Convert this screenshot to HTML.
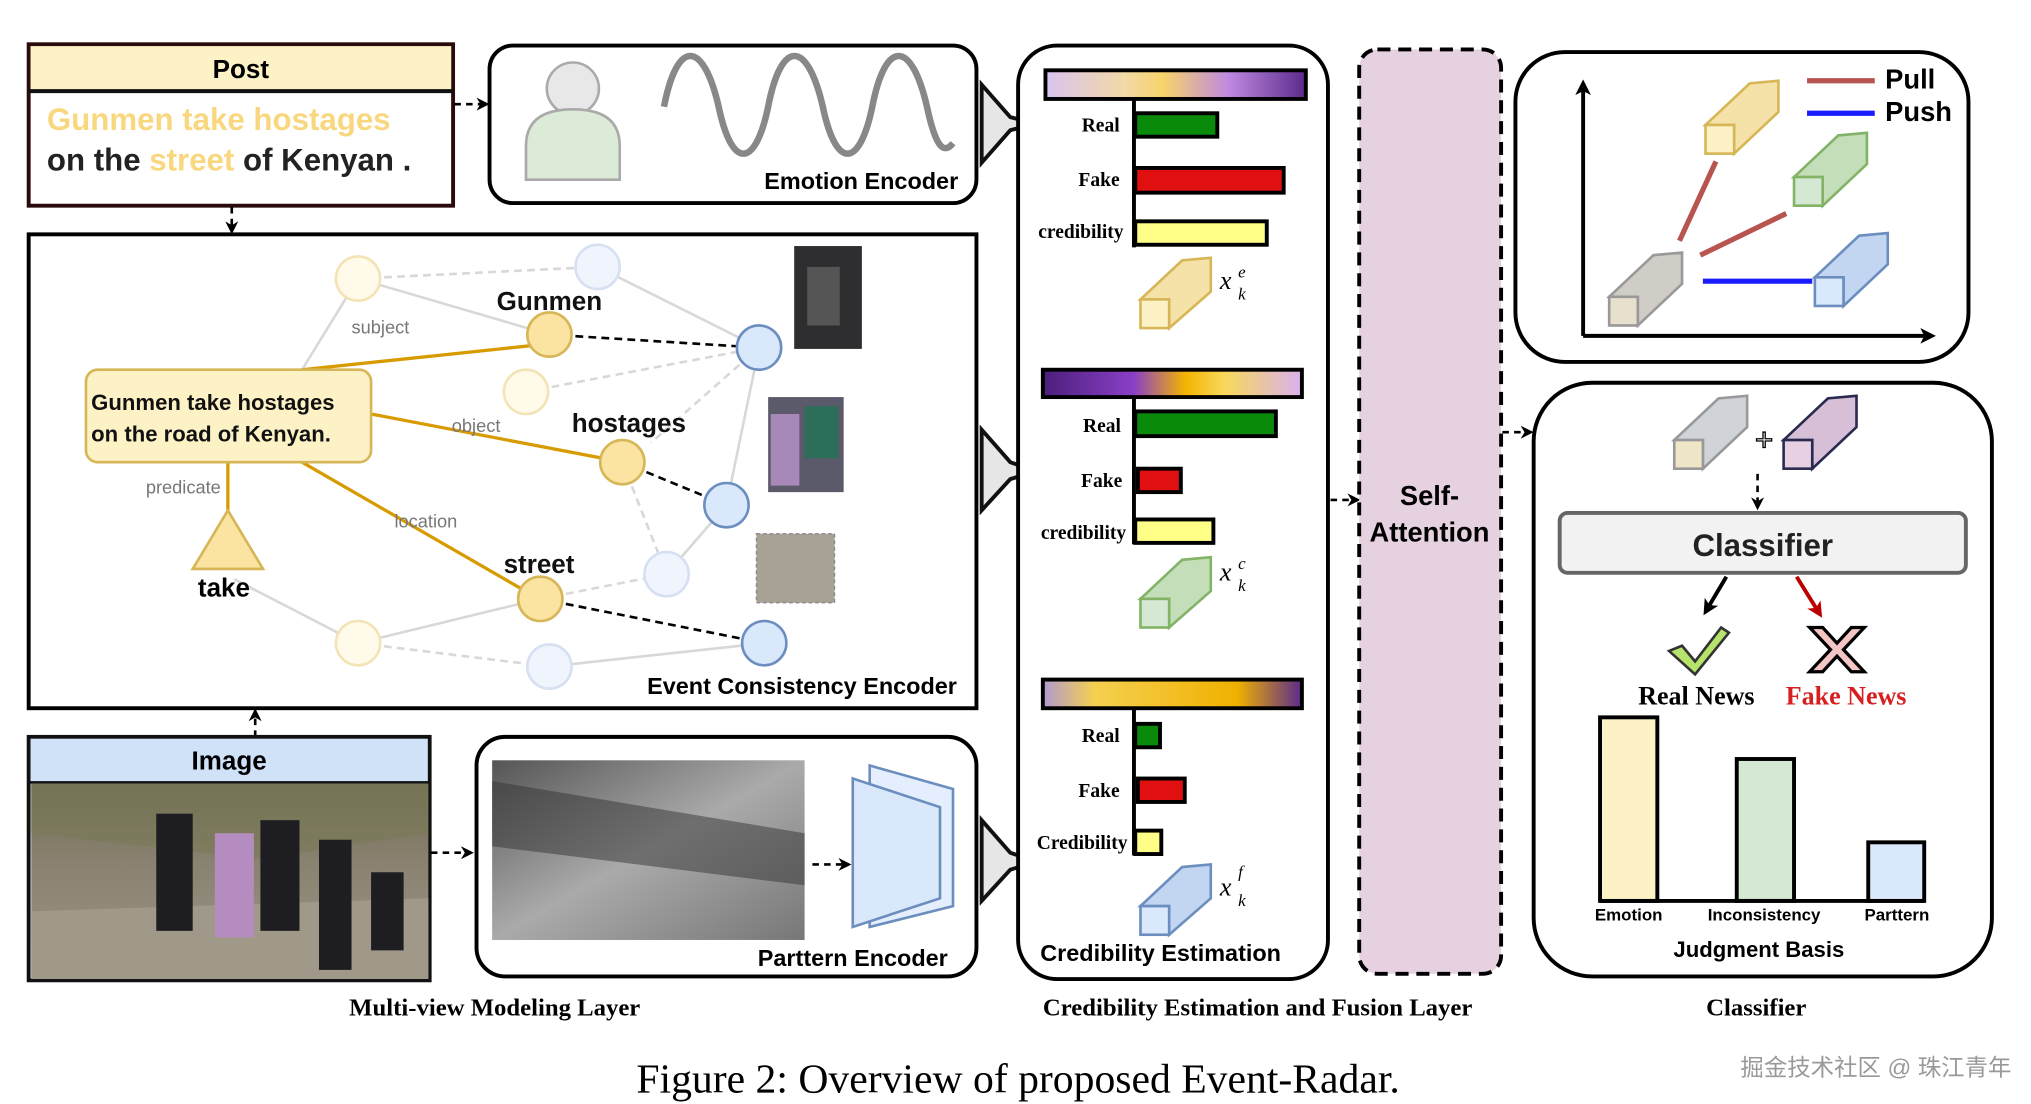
<!DOCTYPE html>
<html><head><meta charset="utf-8"><style>
html,body{margin:0;padding:0;background:#fff;}
svg{display:block;}
text{font-family:"Liberation Sans",sans-serif;}
.s{font-family:"Liberation Serif",serif;font-weight:bold;}
.b{font-weight:bold;}
.m{font-family:"Liberation Serif",serif;font-style:italic;}
</style></head><body>
<svg width="2031" height="1104" viewBox="0 0 1560 848" xmlns="http://www.w3.org/2000/svg">
<defs>
<marker id="ah" markerWidth="10" markerHeight="10" refX="8" refY="5" orient="auto" markerUnits="userSpaceOnUse"><path d="M0,0 L10,5 L0,10 L3,5z" fill="#000"/></marker>
<marker id="ahr" markerWidth="12" markerHeight="12" refX="9" refY="6" orient="auto" markerUnits="userSpaceOnUse"><path d="M0,0 L12,6 L0,12 L3,6z" fill="#b00"/></marker>
<marker id="ahb" markerWidth="12" markerHeight="12" refX="9" refY="6" orient="auto" markerUnits="userSpaceOnUse"><path d="M0,0 L12,6 L0,12 L3,6z" fill="#000"/></marker>
<linearGradient id="g1"><stop offset="0" stop-color="#d9c3ef"/><stop offset=".3" stop-color="#f2d9a8"/><stop offset=".45" stop-color="#f7d46a"/><stop offset=".7" stop-color="#c08ae0"/><stop offset="1" stop-color="#5a2a8c"/></linearGradient>
<linearGradient id="g2"><stop offset="0" stop-color="#4b1f7a"/><stop offset=".35" stop-color="#8a3fc7"/><stop offset=".55" stop-color="#f4b400"/><stop offset=".7" stop-color="#f8d85a"/><stop offset="1" stop-color="#d9b0f0"/></linearGradient>
<linearGradient id="g3"><stop offset="0" stop-color="#b09ad0"/><stop offset=".2" stop-color="#f5d050"/><stop offset=".75" stop-color="#f0b000"/><stop offset="1" stop-color="#5a2a8c"/></linearGradient>
<linearGradient id="ph" x1="0" y1="0" x2="0" y2="1"><stop offset="0" stop-color="#6d6a55"/><stop offset=".4" stop-color="#8a8270"/><stop offset="1" stop-color="#9c9588"/></linearGradient>
<linearGradient id="gp" x1="0" y1="0" x2="1" y2="1"><stop offset="0" stop-color="#555"/><stop offset=".5" stop-color="#aaa"/><stop offset="1" stop-color="#777"/></linearGradient>
</defs>

<rect x="22" y="34" width="326" height="124" fill="#fff" stroke="#2a0a0a" stroke-width="3"/>
<rect x="23.5" y="35.5" width="323" height="34" fill="#fdf2c6"/>
<line x1="22" y1="70" x2="348" y2="70" stroke="#111" stroke-width="3"/>
<text x="185" y="60" font-size="20" class="b" text-anchor="middle">Post</text>
<text x="36" y="100" font-size="24" fill="#f9d77e" class="b">Gunmen take hostages</text>
<text x="36" y="131" font-size="24" fill="#222" class="b">on the <tspan fill="#f9d77e">street</tspan> of Kenyan .</text>
<line x1="349" y1="80" x2="374" y2="80" stroke="#000" stroke-width="2" stroke-dasharray="5,4" marker-end="url(#ah)"/>
<line x1="178" y1="159" x2="178" y2="178" stroke="#000" stroke-width="2" stroke-dasharray="5,4" marker-end="url(#ah)"/>

<rect x="376" y="35" width="374" height="121" rx="18" fill="#fff" stroke="#000" stroke-width="3"/>
<circle cx="440" cy="68" r="20" fill="#e8e8e8" stroke="#aaa" stroke-width="2"/>
<path d="M404,138 L404,112 Q404,84 440,84 Q476,84 476,112 L476,138 Z" fill="#dcebd8" stroke="#aaa" stroke-width="2"/>
<path d="M510,82 C520,30 540,30 552,82 C562,130 580,130 590,82 C600,30 620,30 632,82 C642,130 660,130 670,82 C680,30 700,30 712,82 C718,110 724,120 732,110" fill="none" stroke="#888" stroke-width="5"/>
<text x="736" y="145" font-size="18" class="b" text-anchor="end">Emotion Encoder</text>

<g fill="#e6e6e6" stroke="#111" stroke-width="3">
<path d="M754,65 L776,90 L796,95 L776,100 L754,125 L754,104 Z"/>
<path d="M754,330 L776,355 L796,362 L776,368 L754,392 L754,372 Z"/>
<path d="M754,630 L776,655 L796,662 L776,668 L754,692 L754,672 Z"/>
</g>

<rect x="22" y="180" width="728" height="364" fill="#fff" stroke="#000" stroke-width="3"/>
<g stroke="#d8d8d8" stroke-width="2" fill="none">
<line x1="232" y1="284" x2="275" y2="214"/>
<line x1="275" y1="214" x2="422" y2="257"/>
<line x1="459" y1="205" x2="583" y2="267"/>
<line x1="583" y1="267" x2="558" y2="388"/>
<line x1="558" y1="388" x2="512" y2="441"/>
<line x1="275" y1="494" x2="415" y2="460"/>
<line x1="422" y1="512" x2="587" y2="494"/>
<line x1="180" y1="445" x2="275" y2="494"/>
</g>
<g stroke="#d8d8d8" stroke-width="2" fill="none" stroke-dasharray="6,4">
<line x1="275" y1="214" x2="459" y2="205"/>
<line x1="404" y1="301" x2="583" y2="267"/>
<line x1="583" y1="267" x2="500" y2="340"/>
<line x1="478" y1="355" x2="512" y2="441"/>
<line x1="415" y1="460" x2="512" y2="441"/>
<line x1="275" y1="494" x2="422" y2="512"/>
</g>
<g stroke="#d79b00" stroke-width="2.5">
<line x1="232" y1="284" x2="422" y2="264"/>
<line x1="285" y1="318" x2="463" y2="352"/>
<line x1="232" y1="355" x2="400" y2="452"/>
<line x1="175" y1="355" x2="175" y2="392"/>
</g>
<g stroke="#000" stroke-width="2" stroke-dasharray="6,4">
<line x1="422" y1="257" x2="583" y2="267"/>
<line x1="478" y1="355" x2="558" y2="388"/>
<line x1="415" y1="460" x2="587" y2="494"/>
</g>
<g stroke-width="2">
<circle cx="275" cy="214" r="17" fill="#fffaea" stroke="#f3e3b5"/>
<circle cx="404" cy="301" r="17" fill="#fffaea" stroke="#f3e3b5"/>
<circle cx="275" cy="494" r="17" fill="#fffaea" stroke="#f3e3b5"/>
<circle cx="459" cy="205" r="17" fill="#f0f4fc" stroke="#d6e0f2"/>
<circle cx="512" cy="441" r="17" fill="#f0f4fc" stroke="#d6e0f2"/>
<circle cx="422" cy="512" r="17" fill="#f0f4fc" stroke="#d6e0f2"/>
<circle cx="422" cy="257" r="17" fill="#fbe3a1" stroke="#d6b656"/>
<circle cx="478" cy="355" r="17" fill="#fbe3a1" stroke="#d6b656"/>
<circle cx="415" cy="460" r="17" fill="#fbe3a1" stroke="#d6b656"/>
<circle cx="583" cy="267" r="17" fill="#dae8fc" stroke="#6c8ebf"/>
<circle cx="558" cy="388" r="17" fill="#dae8fc" stroke="#6c8ebf"/>
<circle cx="587" cy="494" r="17" fill="#dae8fc" stroke="#6c8ebf"/>
</g>
<rect x="66" y="284" width="219" height="71" rx="9" fill="#fdf2c6" stroke="#d6b656" stroke-width="2"/>
<text x="70" y="315" font-size="17" class="b" fill="#111">Gunmen take hostages</text>
<text x="70" y="339" font-size="17" class="b" fill="#111">on the road of Kenyan.</text>
<path d="M175,392 L148,437 L202,437 Z" fill="#fbe3a1" stroke="#d6b656" stroke-width="2"/>
<text x="172" y="458" font-size="20" class="b" text-anchor="middle">take</text>
<g font-size="14" fill="#777">
<text x="270" y="256">subject</text>
<text x="347" y="332">object</text>
<text x="112" y="379">predicate</text>
<text x="303" y="405">location</text>
</g>
<g font-size="20" class="b" fill="#111" text-anchor="middle">
<text x="422" y="238">Gunmen</text>
<text x="483" y="332">hostages</text>
<text x="414" y="440">street</text>
</g>
<rect x="610" y="189" width="52" height="79" fill="#2e2e30"/>
<rect x="620" y="205" width="25" height="45" fill="#555"/>
<rect x="590" y="305" width="58" height="73" fill="#5a5a6a"/>
<rect x="592" y="318" width="22" height="55" fill="#a888b8"/>
<rect x="618" y="312" width="26" height="40" fill="#2d6e5a"/>
<rect x="581" y="410" width="60" height="53" fill="#a8a296" stroke="#888" stroke-dasharray="3,2"/>
<text x="735" y="533" font-size="18" class="b" text-anchor="end">Event Consistency Encoder</text>
<line x1="196" y1="566" x2="196" y2="546" stroke="#000" stroke-width="2" stroke-dasharray="5,4" marker-end="url(#ah)"/>

<rect x="22" y="566" width="308" height="187" fill="#fff" stroke="#111" stroke-width="3"/>
<rect x="23.5" y="567.5" width="305" height="33" fill="#cfe2f8"/>
<line x1="22" y1="601" x2="330" y2="601" stroke="#111" stroke-width="2"/>
<text x="176" y="591" font-size="20" class="b" text-anchor="middle">Image</text>
<rect x="24" y="602" width="305" height="150" fill="url(#ph)"/>
<path d="M24,602 L329,602 L329,640 L200,660 L24,640 Z" fill="#7a7a55" opacity=".6"/>
<path d="M24,700 L329,690 L329,752 L24,752 Z" fill="#a09888"/>
<g fill="#1e1e22"><rect x="120" y="625" width="28" height="90"/><rect x="200" y="630" width="30" height="85"/><rect x="245" y="645" width="25" height="100"/><rect x="285" y="670" width="25" height="60"/></g>
<rect x="165" y="640" width="30" height="80" fill="#b48cc0"/>
<line x1="331" y1="655" x2="362" y2="655" stroke="#000" stroke-width="2" stroke-dasharray="5,4" marker-end="url(#ah)"/>

<rect x="366" y="566" width="384" height="184" rx="22" fill="#fff" stroke="#000" stroke-width="3"/>
<rect x="378" y="584" width="240" height="138" fill="url(#gp)"/>
<path d="M378,600 L618,640 L618,680 L378,650 Z" fill="#333" opacity=".5"/>
<line x1="624" y1="664" x2="652" y2="664" stroke="#000" stroke-width="2" stroke-dasharray="5,4" marker-end="url(#ah)"/>
<path d="M668,588 L732,606 L732,696 L668,712 Z" fill="#e4eefc" stroke="#6c8ebf" stroke-width="2"/>
<path d="M655,598 L722,620 L722,690 L655,712 Z" fill="#dae8fc" stroke="#6c8ebf" stroke-width="2"/>
<text x="728" y="742" font-size="18" class="b" text-anchor="end">Parttern Encoder</text>

<rect x="782" y="35" width="238" height="717" rx="30" fill="#fff" stroke="#000" stroke-width="3"/>
<g stroke="#000" stroke-width="3">
<rect x="803" y="54" width="200" height="22" fill="url(#g1)"/>
<line x1="871" y1="76" x2="871" y2="190"/>
<rect x="872" y="87" width="63" height="18" fill="#0a8a0a"/>
<rect x="872" y="129" width="114" height="19" fill="#e01010"/>
<rect x="872" y="170" width="101" height="18" fill="#ffff88"/>
<rect x="801" y="284" width="199" height="21" fill="url(#g2)"/>
<line x1="871" y1="305" x2="871" y2="418"/>
<rect x="872" y="316" width="108" height="19" fill="#0a8a0a"/>
<rect x="874" y="360" width="33" height="18" fill="#e01010"/>
<rect x="872" y="399" width="60" height="18" fill="#ffff88"/>
<rect x="801" y="522" width="199" height="22" fill="url(#g3)"/>
<line x1="871" y1="544" x2="871" y2="657"/>
<rect x="872" y="556" width="19" height="18" fill="#0a8a0a"/>
<rect x="874" y="598" width="36" height="18" fill="#e01010"/>
<rect x="872" y="638" width="20" height="18" fill="#ffff88"/>
</g>
<g font-size="15" text-anchor="end">
<text x="860" y="101" class="s">Real</text><text x="860" y="143" class="s">Fake</text><text x="863" y="183" class="s">credibility</text>
<text x="861" y="332" class="s">Real</text><text x="862" y="374" class="s">Fake</text><text x="865" y="414" class="s">credibility</text>
<text x="860" y="570" class="s">Real</text><text x="860" y="612" class="s">Fake</text><text x="866" y="652" class="s">Credibility</text>
</g>
<g stroke-width="2">
<g stroke="#d6b656"><path d="M876,230 L908,200 L930,198 L930,224 L898,252 L898,230 Z" fill="#f5e2a8"/><rect x="876" y="230" width="22" height="22" fill="#fdf2c6"/></g>
<g stroke="#82b366"><path d="M876,460 L908,430 L930,428 L930,454 L898,482 L898,460 Z" fill="#c4deba"/><rect x="876" y="460" width="22" height="22" fill="#d5e8d4"/></g>
<g stroke="#6c8ebf"><path d="M876,696 L908,666 L930,664 L930,690 L898,718 L898,696 Z" fill="#c2d6f2"/><rect x="876" y="696" width="22" height="22" fill="#dae8fc"/></g>
</g>
<g font-size="20">
<text x="937" y="222" class="m">x</text><text x="951" y="213" font-size="13" class="m">e</text><text x="951" y="230" font-size="13" class="m">k</text>
<text x="937" y="446" class="m">x</text><text x="951" y="437" font-size="13" class="m">c</text><text x="951" y="454" font-size="13" class="m">k</text>
<text x="937" y="688" class="m">x</text><text x="951" y="674" font-size="13" class="m">f</text><text x="951" y="696" font-size="13" class="m">k</text>
</g>
<text x="799" y="738" font-size="18" class="b">Credibility Estimation</text>
<line x1="1022" y1="384" x2="1043" y2="384" stroke="#000" stroke-width="2" stroke-dasharray="5,4" marker-end="url(#ah)"/>

<rect x="1044" y="38" width="109" height="710" rx="14" fill="#e6d1e0" stroke="#000" stroke-width="3" stroke-dasharray="10,6"/>
<text x="1098" y="388" font-size="21" class="b" text-anchor="middle">Self-</text>
<text x="1098" y="416" font-size="21" class="b" text-anchor="middle">Attention</text>
<line x1="1154" y1="332" x2="1176" y2="332" stroke="#000" stroke-width="2" stroke-dasharray="5,4" marker-end="url(#ah)"/>

<rect x="1164" y="40" width="348" height="238" rx="38" fill="#fff" stroke="#000" stroke-width="3"/>
<line x1="1216" y1="258" x2="1216" y2="64" stroke="#000" stroke-width="3" marker-end="url(#ahb)"/>
<line x1="1216" y1="258" x2="1484" y2="258" stroke="#000" stroke-width="3" marker-end="url(#ahb)"/>
<line x1="1388" y1="62" x2="1440" y2="62" stroke="#b85450" stroke-width="4"/>
<line x1="1388" y1="87" x2="1440" y2="87" stroke="#1a1aff" stroke-width="4"/>
<text x="1448" y="68" font-size="21" class="b">Pull</text>
<text x="1448" y="93" font-size="21" class="b">Push</text>
<line x1="1290" y1="185" x2="1318" y2="124" stroke="#b85450" stroke-width="4"/>
<line x1="1306" y1="196" x2="1372" y2="164" stroke="#b85450" stroke-width="4"/>
<line x1="1308" y1="216" x2="1392" y2="216" stroke="#1a1aff" stroke-width="4"/>
<g stroke-width="2">
<g stroke="#d6b656"><path d="M1310,96 L1344,64 L1366,62 L1366,86 L1332,118 L1332,96 Z" fill="#f5e2a8"/><rect x="1310" y="96" width="22" height="22" fill="#fdf2c6"/></g>
<g stroke="#82b366"><path d="M1378,136 L1412,104 L1434,102 L1434,126 L1400,158 L1400,136 Z" fill="#c4deba"/><rect x="1378" y="136" width="22" height="22" fill="#d5e8d4"/></g>
<g stroke="#999"><path d="M1236,228 L1270,196 L1292,194 L1292,218 L1258,250 L1258,228 Z" fill="#cfcdc5"/><rect x="1236" y="228" width="22" height="22" fill="#e6e0cc"/></g>
<g stroke="#6c8ebf"><path d="M1394,213 L1428,181 L1450,179 L1450,203 L1416,235 L1416,213 Z" fill="#c2d6f2"/><rect x="1394" y="213" width="22" height="22" fill="#dae8fc"/></g>
</g>

<rect x="1178" y="294" width="352" height="456" rx="45" fill="#fff" stroke="#000" stroke-width="3"/>
<g stroke-width="2">
<g stroke="#999"><path d="M1286,338 L1320,306 L1342,304 L1342,328 L1308,360 L1308,338 Z" fill="#d0d4d8"/><rect x="1286" y="338" width="22" height="22" fill="#efe6c8"/></g>
<g stroke="#2a2a50"><path d="M1370,338 L1404,306 L1426,304 L1426,328 L1392,360 L1392,338 Z" fill="#d8bfd8"/><rect x="1370" y="338" width="22" height="22" fill="#e6d0e2"/></g>
</g>
<text x="1355" y="346" font-size="24" text-anchor="middle" stroke="#000" stroke-width="1" fill="#fff">+</text>
<line x1="1350" y1="364" x2="1350" y2="390" stroke="#000" stroke-width="2" stroke-dasharray="5,4" marker-end="url(#ah)"/>
<rect x="1198" y="394" width="312" height="46" rx="6" fill="#f2f2f2" stroke="#666" stroke-width="3"/>
<text x="1354" y="427" font-size="24" class="b" text-anchor="middle" fill="#222">Classifier</text>
<line x1="1326" y1="443" x2="1310" y2="470" stroke="#000" stroke-width="3" marker-end="url(#ahb)"/>
<line x1="1380" y1="443" x2="1398" y2="472" stroke="#b00" stroke-width="3" marker-end="url(#ahr)"/>
<path d="M1282,500 L1292,496 L1302,508 L1322,482 L1328,486 L1302,518 Z" fill="#b5e36b" stroke="#333" stroke-width="2"/>
<path d="M1390,482 L1400,482 L1411,494 L1422,482 L1432,482 L1416,499 L1432,516 L1422,516 L1411,504 L1400,516 L1390,516 L1406,499 Z" fill="#f4c5c5" stroke="#000" stroke-width="2.5"/>
<text x="1303" y="541" font-size="20" class="s" text-anchor="middle">Real News</text>
<text x="1418" y="541" font-size="20" class="s" text-anchor="middle" fill="#d62020">Fake News</text>
<g stroke="#000" stroke-width="3">
<rect x="1229" y="551" width="44" height="141" fill="#fdf2c6"/>
<rect x="1334" y="583" width="44" height="109" fill="#d5e8d4"/>
<rect x="1435" y="647" width="43" height="45" fill="#dae8fc"/>
<line x1="1229" y1="692" x2="1478" y2="692"/>
</g>
<g font-size="13" class="b" text-anchor="middle">
<text x="1251" y="707">Emotion</text><text x="1355" y="707">Inconsistency</text><text x="1457" y="707">Parttern</text>
</g>
<text x="1351" y="735" font-size="17" class="b" text-anchor="middle">Judgment Basis</text>

<text x="380" y="780" font-size="19" class="s" text-anchor="middle">Multi-view Modeling Layer</text>
<text x="966" y="780" font-size="19" class="s" text-anchor="middle">Credibility Estimation and Fusion Layer</text>
<text x="1349" y="780" font-size="19" class="s" text-anchor="middle">Classifier</text>
<text x="782" y="839" font-size="32" style="font-family:'Liberation Serif',serif" text-anchor="middle">Figure 2: Overview of proposed Event-Radar.</text>
<text x="1545" y="826" font-size="18" fill="#999" text-anchor="end" style="font-family:'Liberation Sans','Noto Sans CJK SC',sans-serif">掘金技术社区 @ 珠江青年</text>
</svg>
</body></html>
